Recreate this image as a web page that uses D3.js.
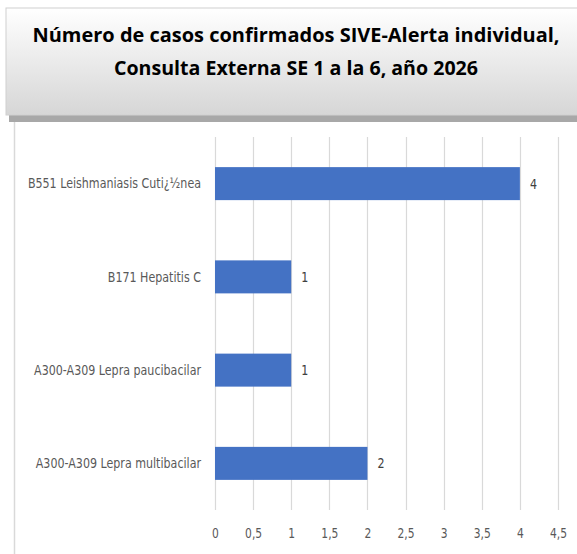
<!DOCTYPE html>
<html>
<head>
<meta charset="utf-8">
<script src="https://cdn.jsdelivr.net/npm/d3@7"></script>
<style>
  body { margin: 0; background: #fff; }
  svg { display: block; }
</style>
</head>
<body>
<svg width="577" height="554"></svg>
<script>
// data
const categories = [
  "B551 Leishmaniasis Cuti¿½nea",
  "B171 Hepatitis C",
  "A300-A309 Lepra paucibacilar",
  "A300-A309 Lepra multibacilar"
];
const values = [4, 1, 1, 2];
const tickValues = [0, 0.5, 1, 1.5, 2, 2.5, 3, 3.5, 4, 4.5];
const titleLines = [
  "Número de casos confirmados SIVE-Alerta individual,",
  "Consulta Externa SE 1 a la 6, año 2026"
];

const svg = d3.select("svg");
const width = parseInt(svg.attr("width"));
const height = parseInt(svg.attr("height"));

const labelFont = "'DejaVu Sans Condensed', 'Liberation Sans Narrow', 'Open Sans', sans-serif";
const titleFont = "'Open Sans', 'Lato', sans-serif";

// squeeze text horizontally to mimic a narrow font
const squeeze = (sel, k) => {
  sel.each(function () {
    const w = this.getComputedTextLength();
    d3.select(this)
      .attr("textLength", w * k)
      .attr("lengthAdjust", "spacingAndGlyphs");
  });
};

// title box with gradient + shadow
const defs = svg.append("defs");
const grad = defs.append("linearGradient")
  .attr("id", "titleGrad")
  .attr("x1", "0%").attr("y1", "0%")
  .attr("x2", "0%").attr("y2", "100%");
grad.append("stop").attr("offset", "0").attr("stop-color", "#ffffff");
grad.append("stop").attr("offset", "1").attr("stop-color", "#d6d6d6");

svg.append("rect") // shadow
  .attr("x", 9).attr("y", 12)
  .attr("width", width).attr("height", 110)
  .attr("fill", "#a8a8a8");
svg.append("rect")
  .attr("x", 6).attr("y", 8)
  .attr("width", width).attr("height", 107)
  .attr("fill", "url(#titleGrad)")
  .attr("stroke", "#d0d0d0")
  .attr("stroke-width", 1);

svg.append("line") // chart border left edge
  .attr("x1", 14.5).attr("x2", 14.5)
  .attr("y1", 122).attr("y2", height)
  .attr("stroke", "#d9d9d9")
  .attr("stroke-width", 1.5);

svg.selectAll("text.title")
  .data(titleLines)
  .enter()
  .append("text")
  .attr("class", "title")
  .attr("x", 296)
  .attr("y", (d, i) => 42 + i * 33)
  .attr("text-anchor", "middle")
  .attr("textLength", (d, i) => (i === 0 ? 527 : 364))
  .attr("lengthAdjust", "spacingAndGlyphs")
  .style("font-family", titleFont)
  .style("font-weight", "bold")
  .style("font-size", "20px")
  .style("fill", "#000")
  .text((d) => d);

// plot area
const x = d3.scaleLinear().domain([0, 4.5]).range([215, 558]);
const y = d3.scaleBand().domain(categories).range([137, 510]).paddingInner(0.646).paddingOuter(0.323);

// gridlines
svg.append("g")
  .selectAll("line")
  .data(tickValues)
  .enter()
  .append("line")
  .attr("x1", (d) => Math.round(x(d)) + 0.5)
  .attr("x2", (d) => Math.round(x(d)) + 0.5)
  .attr("y1", 137)
  .attr("y2", 510)
  .attr("stroke", "#d9d9d9")
  .attr("stroke-width", 1.2);

// x axis tick labels
const xAxis = d3.axisBottom(x)
  .tickValues(tickValues)
  .tickSize(0)
  .tickFormat((d) => String(d).replace(".", ","));
const gx = svg.append("g")
  .attr("transform", "translate(0,525)")
  .call(xAxis);
gx.select(".domain").remove();
gx.selectAll("text")
  .style("font-family", labelFont)
  .style("font-size", "14.5px")
  .style("fill", "#595959")
  .call(squeeze, 0.82);

// y axis labels
const yAxis = d3.axisLeft(y).tickSize(0).tickPadding(14);
const gy = svg.append("g")
  .attr("transform", "translate(215,0)")
  .call(yAxis);
gy.select(".domain").remove();
gy.selectAll("text")
  .style("font-family", labelFont)
  .style("font-size", "14.5px")
  .style("fill", "#595959")
  .call(squeeze, 0.85);

// bars
const data = categories.map((c, i) => ({ cat: c, val: values[i] }));
svg.append("g")
  .selectAll("rect")
  .data(data)
  .enter()
  .append("rect")
  .attr("x", x(0))
  .attr("y", (d) => y(d.cat))
  .attr("width", (d) => x(d.val) - x(0))
  .attr("height", y.bandwidth())
  .attr("fill", "#4472c4");

// value labels
svg.append("g")
  .selectAll("text")
  .data(data)
  .enter()
  .append("text")
  .attr("x", (d) => x(d.val) + 10)
  .attr("y", (d) => y(d.cat) + y.bandwidth() / 2)
  .attr("dy", "0.35em")
  .style("font-family", labelFont)
  .style("font-size", "14.5px")
  .style("fill", "#404040")
  .text((d) => d.val)
  .call(squeeze, 0.85);
</script>
</body>
</html>
